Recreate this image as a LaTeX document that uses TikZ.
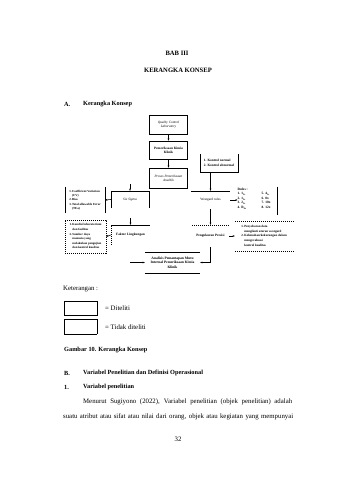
\documentclass[tikz,border=0pt]{standalone}
\usepackage{fontspec}
\setmainfont{Liberation Serif}
\usetikzlibrary{arrows.meta}
\tikzset{
  pg/.style={font=\fontsize{6.8}{8}\selectfont, inner sep=0pt},
  pgb/.style={inner sep=0pt, font=\fontsize{6.3}{8}\selectfont\bfseries},
  dt/.style={font=\fontsize{3.4}{4.3}\selectfont\bfseries, inner sep=0pt, align=center},
  dti/.style={dt, font=\fontsize{3.4}{4.3}\selectfont\itshape},
  dtn/.style={dt, font=\fontsize{3.4}{4.3}\selectfont},
  ln/.style={line width=0.55pt},
  dln/.style={line width=0.45pt, dash pattern=on 1.2pt off 0.8pt},
  arr/.style={ln, -{Stealth[length=2.2pt,width=1.8pt]}},
}
\begin{document}
\begin{tikzpicture}[x=1pt,y=-1pt]
\useasboundingbox[fill=white] (0,0) rectangle (339,480);
% headings
\node[pgb,font=\fontsize{6.6}{8}\selectfont\bfseries] (bab) at (177,53) {BAB III};
\node[pgb,font=\fontsize{6.6}{8}\selectfont\bfseries] (kk) at (178,70) {KERANGKA KONSEP};
\node[pgb,anchor=west] (secA) at (64,104) {A.};
\node[pgb,anchor=west] (secAt) at (83,104) {Kerangka Konsep};
% main column
\node[draw,ln,dti,minimum width=38pt,minimum height=19pt] (qc) at (168.5,124.5) {Quality Control\\Laboratory};
\node[draw,ln,dt,minimum width=38pt,minimum height=18pt] (pk) at (168.5,150) {Pemeriksaan Kimia\\Klinik};
\node[draw,ln,dti,minimum width=38pt,minimum height=20pt] (pr) at (168.5,178) {Proses Pemeriksaan\\Analitik};
\draw[arr] (qc) -- (pk);
\draw[arr] (pk) -- (pr);
% kontrol
\node[dt,minimum width=38pt,minimum height=18pt] (kon) at (219,163) {\begin{tabular}{@{}l@{}}1. Kontrol normal\\2. Kontrol abnormal\end{tabular}};
\draw[ln] (kon.north west) -- (kon.south west) -- (kon.south east) -- (kon.north east);
% westgard
\node[dtn,minimum width=39pt,minimum height=18pt] (wg) at (210.5,200) {Westgard rules};
\draw[ln] (wg.north west) -- (wg.north east);
\draw[arr] (kon.south -| wg.north) -- (wg.north);
% rules
\node[minimum width=40pt,minimum height=28pt,inner sep=0pt] (rf) at (257,201) {};
\draw[ln] (rf.north east) -- (rf.south east);
\node[dt,anchor=north west,align=left,font=\fontsize{3.4}{4.5}\selectfont\bfseries] (rules) at (237.5,188) {Rules :\\\begin{tabular}{@{}p{24pt}@{}l@{}}1. 1\textsubscript{2s} & 5. 4\textsubscript{1s}\\2. 1\textsubscript{3s} & 6. 8x\\3. 2\textsubscript{2s} & 7. 10x\\4. R\textsubscript{4s} & 8. 12x\end{tabular}};
\draw[arr] (wg.east) -- (wg.east -| rules.west);
% six sigma
\node[dti,minimum width=38pt,minimum height=17pt] (ss) at (130,199.5) {Six Sigma};
\draw[ln] (ss.south west) -- (ss.north west) -- (ss.north east) -- (ss.south east);
\coordinate (ssin) at (130,184);
\draw[arr] (ssin) -- (ss.north);
% left list
\node[dt,font=\fontsize{3.1}{4.2}\selectfont\bfseries,minimum width=40pt,minimum height=26pt] (ll) at (85,200) {\begin{tabular}{@{}l@{\,}l@{}}1.&Coefficient Variation\\&(CV)\\2.&Bias\\3.&Total allowable Error\\&(TEa)\end{tabular}};
\draw[ln] (ll.north west) -- (ll.south west);
\draw[ln] (ll.north east) -- (ll.south east);
\draw[arr] (ss.west) -- (ll.east);
% faktor lingkungan
\node[dt,minimum width=39pt,minimum height=20pt] (fl) at (130.5,235) {Faktor Lingkungan};
\draw[dln] (fl.south west) -- (fl.north west) -- (fl.north east);
\coordinate (flin) at (130.5,218);
\draw[arr] (flin) -- (fl.north);
% dotted box
\node[dt,draw,dln,font=\fontsize{3.1}{4.6}\selectfont\bfseries,minimum width=41pt,minimum height=33pt] (db) at (85.5,236.5) {\begin{tabular}{@{}l@{\,}l@{}}1.&Kondisi laboratorium\\&dan fasilitas\\2.&Sumber daya\\&manusia yang\\&melakukan pengujian\\&dan kontrol kualitas\end{tabular}};
\draw[arr] (fl.west) -- (db.east);
% pengukuran presisi
\node[dt,minimum width=37pt,minimum height=22pt] (pp) at (210.5,236) {Pengukuran Presisi};
\draw[dln] (pp.north west) -- (pp.north east);
\draw[arr] (wg.south) -- (pp.north);
% right dashed
\node[dt,font=\fontsize{3.2}{4.6}\selectfont\bfseries,minimum width=58pt,minimum height=30pt] (rd) at (264,236) {\begin{tabular}{@{}l@{\,}l@{}}1.&Penyebaran data\\&mengikuti aturan westgard\\2.&Kelemahan/kekurangan dalam\\&mengevaluasi\\&kontrol kualitas\end{tabular}};
\draw[dln] (rd.north west) -- (rd.north east);
\draw[dln] (rd.south west) -- (rd.south east);
\draw[arr] (pp.east) -- (rd.west);
% bottom box
\node[dt,font=\fontsize{3.6}{4.5}\selectfont\bfseries,minimum width=55pt,minimum height=21pt] (bb) at (172.5,262.5) {Analisis Pemantapan Mutu\\Internal Pemeriksaan Kimia\\Klinik};
\draw[ln] (bb.north west) -- (bb.north east);
\draw[ln] (bb.south west) -- (bb.south east);
\draw[arr] (pp.south) |- (bb.east);
\coordinate (bbin) at (130,262.5);
\draw[arr] (bbin) -- (bb.west);
% legend
\node[pg,anchor=west] (ket) at (63,289) {Keterangan :};
\node[draw,ln,minimum width=33pt,minimum height=14pt,inner sep=0pt] (lg1) at (80.5,308) {};
\node[pg,anchor=west] (lt1) at (105,308) {= Diteliti};
\node[draw,line width=0.45pt,dash pattern=on 0.5pt off 0.35pt,minimum width=33pt,minimum height=15pt,inner sep=0pt] (lg2) at (80.5,326.5) {};
\node[pg,anchor=west] (lt2) at (105,327) {= Tidak diteliti};
% text below
\node[pgb,anchor=west] (gb) at (64,350) {Gambar 10. Kerangka Konsep};
\node[pgb,anchor=west] (secB) at (64,373) {B.};
\node[pgb,anchor=west] (secBt) at (83,373) {Variabel Penelitian dan Definisi Operasional};
\node[pgb,anchor=west] (s1) at (64,387) {1.};
\node[pgb,anchor=west] (s1t) at (83,387) {Variabel penelitian};
\node[pg,anchor=west] (p1) at (83,402) {\makebox[209pt][s]{Menurut Sugiyono (2022), Variabel penelitian (objek penelitian) adalah}};
\node[pg,anchor=west] (p2) at (63,417) {\makebox[230pt][s]{suatu atribut atau sifat atau nilai dari orang, objek atau kegiatan yang mempunyai}};
\node[pg] (pn) at (178,439) {32};
\end{tikzpicture}
\end{document}
